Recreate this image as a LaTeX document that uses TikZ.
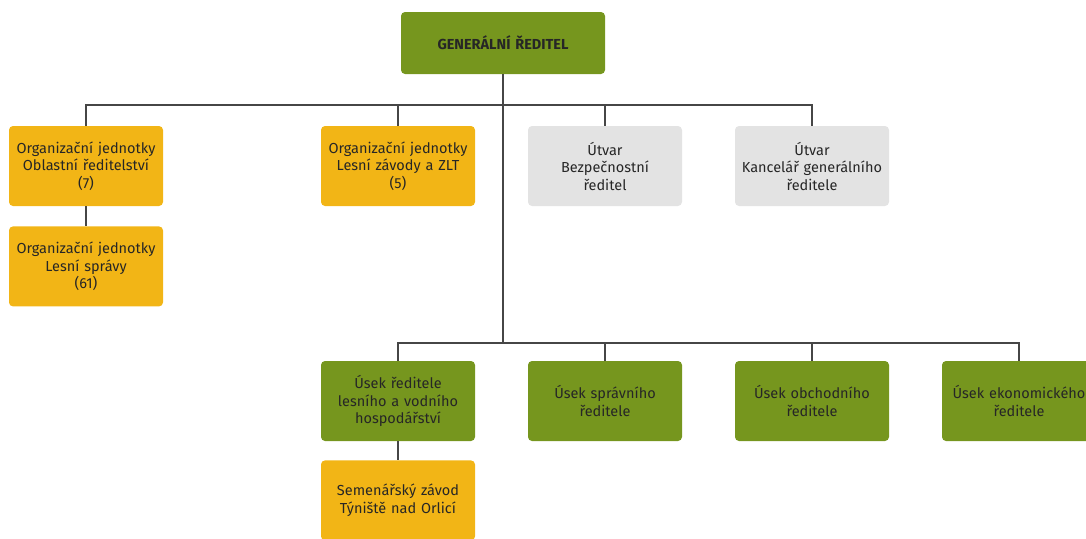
\documentclass[tikz,border=0pt]{standalone}
\usepackage{fontspec}
\setmainfont{Fira Sans}
\usepackage{xcolor}
\usetikzlibrary{positioning, calc}

\definecolor{lesgreen}{RGB}{118,150,30}
\definecolor{lesyellow}{RGB}{242,181,22}
\definecolor{lesgrey}{RGB}{227,227,227}
\definecolor{linegrey}{RGB}{70,70,70}

\begin{document}
\begin{tikzpicture}[
    x=1pt, y=-1pt,
    node distance=20pt,
    box/.style={rounded corners=4pt, minimum width=154pt, minimum height=80pt,
        text width=150pt, align=center, font=\fontsize{14.5}{17.5}\selectfont,
        text=black!85, inner sep=0pt},
    green/.style={box, fill=lesgreen},
    yellow/.style={box, fill=lesyellow},
    grey/.style={box, fill=lesgrey},
    conn/.style={draw=linegrey, line width=1.1pt}
]
    \useasboundingbox (0,0) rectangle (1086,538);

    % vedeni
    \node[green, minimum width=204pt, minimum height=62pt, text width=196pt,
          font=\fontsize{14.5}{17}\selectfont\bfseries] (gr) at (503,43) {GENERÁLNÍ ŘEDITEL};

    % horni rada
    \node[yellow] (ojOR) at (86,166) {Organizační jednotky\\Oblastní ředitelství\\(7)};
    \node[yellow, below=of ojOR] (ojLS) {Organizační jednotky\\Lesní správy\\(61)};
    \node[yellow] (ojLZ) at (398,166) {Organizační jednotky\\Lesní závody a ZLT\\(5)};
    \node[grey] (utBez) at (605,166) {Útvar\\Bezpečnostní\\ředitel};
    \node[grey] (utKan) at (812,166) {Útvar\\Kancelář generálního\\ředitele};

    % dolni rada
    \node[green] (usLes) at (398,401) {Úsek ředitele\\lesního a vodního\\hospodářství};
    \node[yellow, below=of usLes, yshift=1pt] (semZav) {Semenářský závod\\Týniště nad Orlicí};
    \node[green] (usSpr) at (605,401) {Úsek správního\\ředitele};
    \node[green] (usObch) at (812,401) {Úsek obchodního\\ředitele};
    \node[green] (usEko) at (1019,401) {Úsek ekonomického\\ředitele};

    \coordinate (busTop) at (503,105);
    \coordinate (busLow) at (503,343);

    \draw[conn] (gr) -- (busLow);
    \draw[conn] (busTop) -| (ojOR);
    \draw[conn] (busTop) -| (ojLZ);
    \draw[conn] (busTop) -| (utBez);
    \draw[conn] (busTop) -| (utKan);
    \draw[conn] (ojOR) -- (ojLS);

    \draw[conn] (busLow) -| (usLes);
    \draw[conn] (busLow) -| (usSpr);
    \draw[conn] (busLow) -| (usObch);
    \draw[conn] (busLow) -| (usEko);
    \draw[conn] (usLes) -- (semZav);
\end{tikzpicture}
\end{document}
